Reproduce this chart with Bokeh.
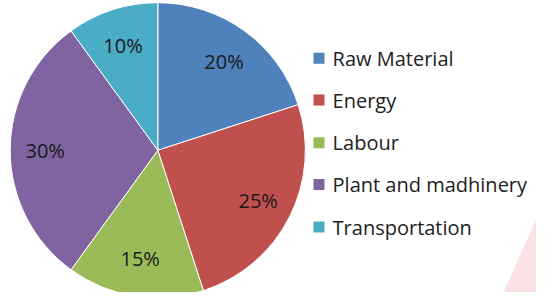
import math
from bokeh.plotting import figure
from bokeh.models import Range1d, ColumnDataSource
from bokeh.core.properties import value
from bokeh.embed import file_html
from bokeh.resources import INLINE

categories = ["Raw Material", "Energy", "Labour", "Plant and madhinery", "Transportation"]
shares = [20, 25, 15, 30, 10]
labels = ["20%", "25%", "15%", "30%", "10%"]
colors = ["#4F81BD", "#C0504D", "#9BBB59", "#8064A2", "#4BACC6"]

# canvas coordinates mirror the 552x308 reference layout
RW, RH = 552, 308
p = figure(width=536, height=292, output_backend="svg", toolbar_location=None,
           x_range=Range1d(0, RW), y_range=Range1d(0, RH), min_border=0)
p.axis.visible = False
p.grid.visible = False
p.outline_line_color = None
p.background_fill_color = "white"
p.border_fill_color = "white"

# faint watermark fragment at bottom right
p.patch([518, 552, 552], [0, 78, 0], fill_color="#fbe1e4", line_color=None)

cx, cy, R = 162, 150, 152
total = sum(shares)
starts, ends, lx, ly = [], [], [], []
cum = 0
for s in shares:
    a0 = math.pi / 2 - 2 * math.pi * cum / total
    a1 = math.pi / 2 - 2 * math.pi * (cum + s) / total
    mid = (a0 + a1) / 2
    starts.append(a0)
    ends.append(a1)
    lx.append(cx + 116 * math.cos(mid))
    ly.append(cy + 116 * math.sin(mid))
    cum += s

src = ColumnDataSource(dict(start=starts, end=ends, color=colors, lx=lx, ly=ly, label=labels))
p.wedge(x=cx, y=cy, radius=R, start_angle="start", end_angle="end", direction="clock",
        fill_color="color", line_color="white", line_width=1, source=src)
p.text(x="lx", y="ly", text="label", source=src, text_align="center", text_baseline="middle",
       text_font=value("Open Sans"), text_font_size="20px", text_color="#1a1a1a")

# legend
row_y = [RH - y for y in (61, 105, 150, 194, 239)]
leg = ColumnDataSource(dict(y=row_y, color=colors, name=categories,
                            sx=[328] * 5, tx=[342] * 5))
p.scatter(x="sx", y="y", marker="square", size=11, fill_color="color", line_color=None, source=leg)
p.text(x="tx", y="y", text="name", source=leg, text_align="left", text_baseline="middle",
       text_font=value("Open Sans"), text_font_size="20px", text_color="#222222")

open("out.html", "w").write(file_html(p, INLINE))
